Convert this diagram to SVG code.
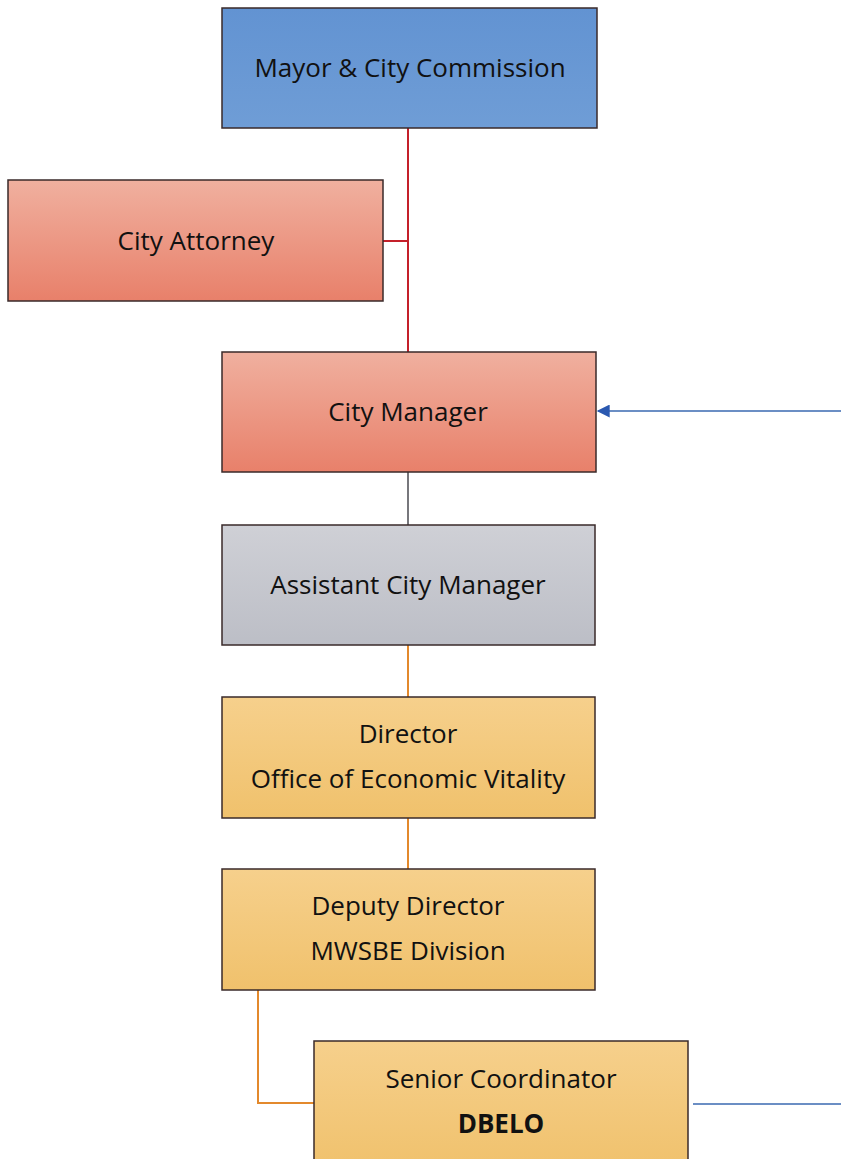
<svg xmlns="http://www.w3.org/2000/svg" width="841" height="1159" viewBox="0 0 841 1159">
  <style>
    .box { stroke: #3a2a2a; stroke-width: 1.5; }
    .lbl { font-family: "Open Sans", "Noto Sans", sans-serif; font-size: 26px; fill: #111; text-anchor: middle; }
    .bold { font-weight: bold; }
    .red { stroke: #c4202a; stroke-width: 2; fill: none; }
    .gray { stroke: #4a4a50; stroke-width: 1.5; fill: none; }
    .orange { stroke: #e3892c; stroke-width: 2; fill: none; }
    .blue { stroke: #3a68b0; stroke-width: 1.5; fill: none; }
  </style>
  <defs>
    <linearGradient id="gBlue" x1="0" y1="0" x2="0" y2="1">
      <stop offset="0" stop-color="#6293d2"/>
      <stop offset="1" stop-color="#6f9dd6"/>
    </linearGradient>
    <linearGradient id="gRed" x1="0" y1="0" x2="0" y2="1">
      <stop offset="0" stop-color="#f0b09f"/>
      <stop offset="1" stop-color="#e8806a"/>
    </linearGradient>
    <linearGradient id="gGray" x1="0" y1="0" x2="0" y2="1">
      <stop offset="0" stop-color="#cfd0d6"/>
      <stop offset="1" stop-color="#bcbec6"/>
    </linearGradient>
    <linearGradient id="gGold" x1="0" y1="0" x2="0" y2="1">
      <stop offset="0" stop-color="#f6d08c"/>
      <stop offset="1" stop-color="#f0c16c"/>
    </linearGradient>
    <marker id="arrowBlue" viewBox="0 0 10 10" refX="9" refY="5" markerWidth="14" markerHeight="13" markerUnits="userSpaceOnUse" orient="auto">
      <path d="M0,0 L10,5 L0,10 z" fill="#2a58b0"/>
    </marker>
  </defs>

  <!-- connectors -->
  <g id="connectors">
    <path class="red" d="M408,128 V352"/>
    <path class="red" d="M383,241 H408"/>
    <path class="gray" d="M408,472 V525"/>
    <path class="orange" d="M408,645 V697"/>
    <path class="orange" d="M408,818 V869"/>
    <path class="orange" d="M258,990 V1103 H314"/>
    <path class="blue" d="M841,411 H598" marker-end="url(#arrowBlue)"/>
    <path class="blue" d="M693,1104 H841"/>
  </g>

  <g id="mayor">
    <rect class="box" x="222" y="8" width="375" height="120" fill="url(#gBlue)"/>
    <text class="lbl" x="410" y="77">Mayor &amp; City Commission</text>
  </g>

  <g id="attorney">
    <rect class="box" x="8" y="180" width="375" height="121" fill="url(#gRed)"/>
    <text class="lbl" x="196" y="250">City Attorney</text>
  </g>

  <g id="manager">
    <rect class="box" x="222" y="352" width="374" height="120" fill="url(#gRed)"/>
    <text class="lbl" x="408" y="421">City Manager</text>
  </g>

  <g id="assistant">
    <rect class="box" x="222" y="525" width="373" height="120" fill="url(#gGray)"/>
    <text class="lbl" x="408" y="594">Assistant City Manager</text>
  </g>

  <g id="director">
    <rect class="box" x="222" y="697" width="373" height="121" fill="url(#gGold)"/>
    <text class="lbl" x="408" y="743">Director</text>
    <text class="lbl" x="408" y="788">Office of Economic Vitality</text>
  </g>

  <g id="deputy">
    <rect class="box" x="222" y="869" width="373" height="121" fill="url(#gGold)"/>
    <text class="lbl" x="408" y="915">Deputy Director</text>
    <text class="lbl" x="408" y="960">MWSBE Division</text>
  </g>

  <g id="coordinator">
    <rect class="box" x="314" y="1041" width="374" height="130" fill="url(#gGold)"/>
    <text class="lbl" x="501" y="1088">Senior Coordinator</text>
    <text class="lbl bold" x="501" y="1133">DBELO</text>
  </g>
</svg>
